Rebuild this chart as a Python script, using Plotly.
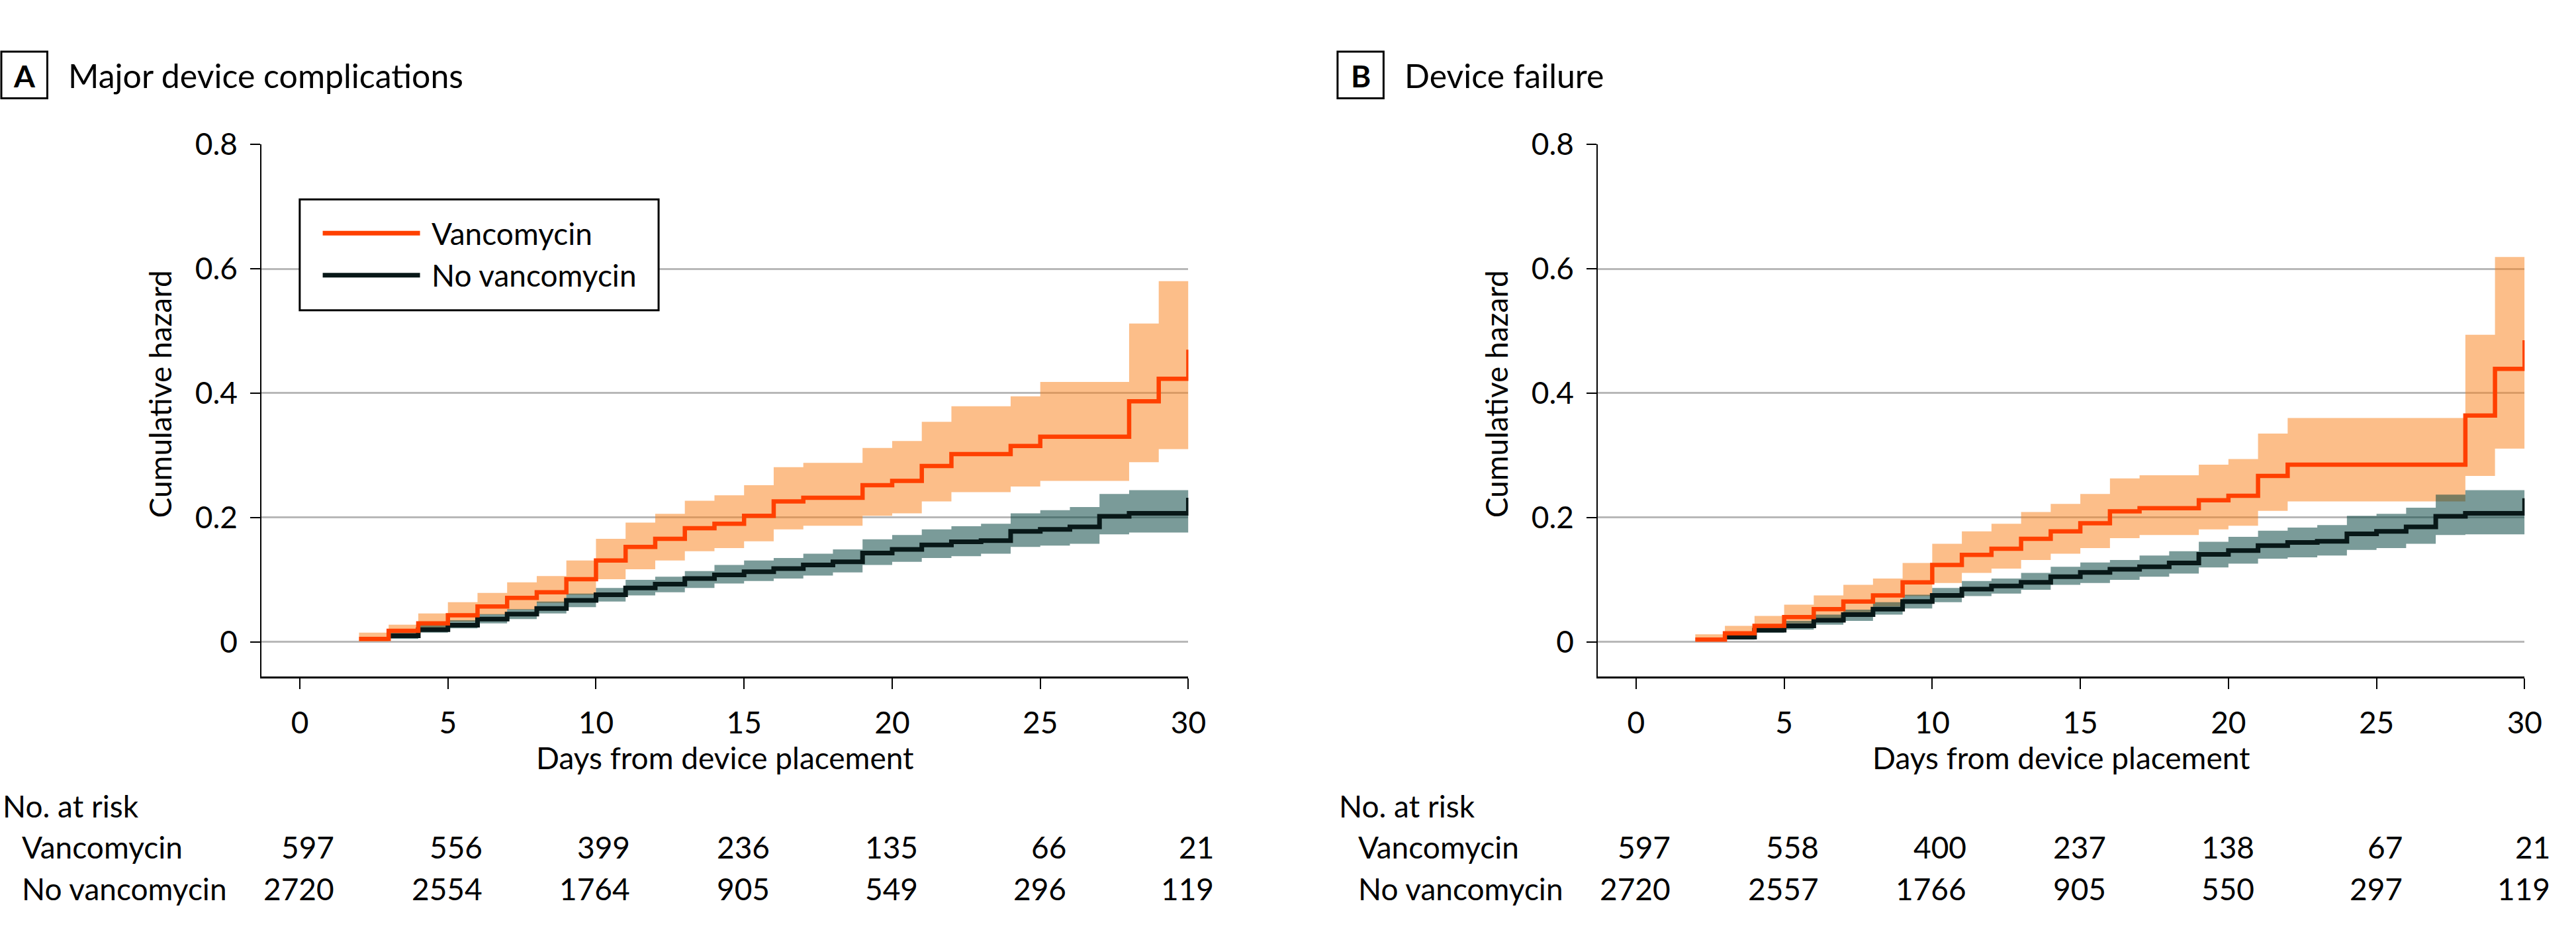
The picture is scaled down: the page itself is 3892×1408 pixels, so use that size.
import plotly.graph_objects as go

W, H = 3892, 1408
FONT = "Lato"

# ---------------- data ----------------
days_vanc = list(range(2, 31))
days_none = list(range(3, 31))
tick_days = [0, 5, 10, 15, 20, 25, 30]

# Panel A: Major device complications
a_vanc = [0.005, 0.018, 0.030, 0.043, 0.057, 0.071, 0.080, 0.101, 0.131, 0.153, 0.166, 0.183, 0.190, 0.203,
          0.226, 0.232, 0.232, 0.252, 0.259, 0.283, 0.302, 0.302, 0.315, 0.330, 0.330, 0.330, 0.387, 0.423, 0.470]
a_vanc_hi = [0.015, 0.028, 0.046, 0.064, 0.079, 0.096, 0.106, 0.131, 0.166, 0.192, 0.206, 0.227, 0.236, 0.252,
             0.281, 0.288, 0.288, 0.312, 0.323, 0.354, 0.379, 0.379, 0.395, 0.418, 0.418, 0.418, 0.512, 0.580, 0.668]
a_vanc_lo = [0.001, 0.008, 0.019, 0.033, 0.044, 0.052, 0.063, 0.076, 0.101, 0.117, 0.131, 0.146, 0.151, 0.162,
             0.181, 0.187, 0.187, 0.203, 0.207, 0.226, 0.241, 0.241, 0.250, 0.259, 0.259, 0.259, 0.289, 0.310, 0.310]
a_none = [0.010, 0.020, 0.027, 0.037, 0.045, 0.054, 0.067, 0.076, 0.087, 0.093, 0.102, 0.108, 0.113,
          0.118, 0.124, 0.129, 0.143, 0.149, 0.156, 0.161, 0.163, 0.178, 0.181, 0.185, 0.202, 0.207, 0.207, 0.232]
a_none_hi = [0.015, 0.027, 0.035, 0.045, 0.053, 0.065, 0.078, 0.087, 0.100, 0.105, 0.114, 0.124, 0.131,
             0.135, 0.142, 0.149, 0.165, 0.172, 0.181, 0.186, 0.190, 0.207, 0.212, 0.217, 0.238, 0.244, 0.244, 0.244]
a_none_lo = [0.005, 0.015, 0.022, 0.030, 0.037, 0.046, 0.056, 0.065, 0.075, 0.080, 0.087, 0.094, 0.098,
             0.102, 0.107, 0.112, 0.124, 0.129, 0.135, 0.138, 0.142, 0.153, 0.155, 0.158, 0.173, 0.176, 0.176, 0.176]
a_risk_vanc = [597, 556, 399, 236, 135, 66, 21]
a_risk_none = [2720, 2554, 1764, 905, 549, 296, 119]

# Panel B: Device failure
b_vanc = [0.004, 0.014, 0.026, 0.040, 0.053, 0.065, 0.075, 0.096, 0.124, 0.140, 0.150, 0.166, 0.178, 0.191,
          0.210, 0.215, 0.215, 0.228, 0.235, 0.267, 0.285, 0.285, 0.285, 0.285, 0.285, 0.285, 0.364, 0.439, 0.485]
b_vanc_hi = [0.0125, 0.026, 0.042, 0.060, 0.075, 0.092, 0.102, 0.127, 0.158, 0.178, 0.190, 0.209, 0.222, 0.238,
             0.263, 0.268, 0.268, 0.285, 0.294, 0.335, 0.360, 0.360, 0.360, 0.360, 0.360, 0.360, 0.494, 0.619, 0.619]
b_vanc_lo = [0.001, 0.005, 0.016, 0.030, 0.038, 0.047, 0.057, 0.074, 0.095, 0.111, 0.118, 0.132, 0.142, 0.151,
             0.167, 0.172, 0.172, 0.181, 0.187, 0.211, 0.226, 0.226, 0.226, 0.226, 0.226, 0.226, 0.267, 0.311, 0.245]
b_none = [0.008, 0.019, 0.026, 0.035, 0.044, 0.053, 0.065, 0.075, 0.085, 0.090, 0.096, 0.105, 0.112,
          0.117, 0.121, 0.127, 0.141, 0.147, 0.155, 0.160, 0.162, 0.174, 0.178, 0.185, 0.202, 0.207, 0.207, 0.231]
b_none_hi = [0.0125, 0.026, 0.034, 0.044, 0.052, 0.064, 0.076, 0.087, 0.098, 0.102, 0.111, 0.121, 0.128,
             0.132, 0.139, 0.146, 0.161, 0.169, 0.179, 0.184, 0.188, 0.203, 0.206, 0.216, 0.237, 0.244, 0.244, 0.244]
b_none_lo = [0.004, 0.015, 0.020, 0.028, 0.034, 0.044, 0.054, 0.064, 0.074, 0.078, 0.084, 0.092, 0.095,
             0.100, 0.105, 0.110, 0.120, 0.126, 0.134, 0.136, 0.139, 0.148, 0.151, 0.158, 0.172, 0.173, 0.173, 0.173]
b_risk_vanc = [597, 558, 400, 237, 138, 67, 21]
b_risk_none = [2720, 2557, 1766, 905, 550, 297, 119]

panel_titles = ["Major device complications", "Device failure"]
panel_letters = ["A", "B"]
series_names = ["Vancomycin", "No vancomycin"]

# ---------------- styles ----------------
C_VANC = "#ff4000"
C_VANC_FILL = "rgba(250,125,20,0.5)"
C_NONE = "#081818"
C_NONE_FILL = "rgba(0,64,60,0.52)"
GRID = "#b8b8b8"


def px(x):
    return x / W


def py(y):
    return 1 - y / H


fig = go.Figure()

panels = [
    dict(vanc=a_vanc, hi=a_vanc_hi, lo=a_vanc_lo, none=a_none, nhi=a_none_hi, nlo=a_none_lo,
         rv=a_risk_vanc, rn=a_risk_none, xa="x", ya="y", off=0),
    dict(vanc=b_vanc, hi=b_vanc_hi, lo=b_vanc_lo, none=b_none, nhi=b_none_hi, nlo=b_none_lo,
         rv=b_risk_vanc, rn=b_risk_none, xa="x2", ya="y2", off=2033),
]

for p in panels:
    xa, ya = p["xa"], p["ya"]
    common = dict(xaxis=xa, yaxis=ya, showlegend=False, hoverinfo="skip", mode="lines")
    fig.add_trace(go.Scatter(x=days_vanc, y=p["lo"], line=dict(width=0, shape="hv"), **common))
    fig.add_trace(go.Scatter(x=days_vanc, y=p["hi"], line=dict(width=0, shape="hv"),
                             fill="tonexty", fillcolor=C_VANC_FILL, **common))
    fig.add_trace(go.Scatter(x=days_none, y=p["nlo"], line=dict(width=0, shape="hv"), **common))
    fig.add_trace(go.Scatter(x=days_none, y=p["nhi"], line=dict(width=0, shape="hv"),
                             fill="tonexty", fillcolor=C_NONE_FILL, **common))
    fig.add_trace(go.Scatter(x=days_none, y=p["none"], line=dict(width=7, shape="hv", color=C_NONE), **common))
    fig.add_trace(go.Scatter(x=days_vanc, y=p["vanc"], line=dict(width=6.5, shape="hv", color=C_VANC), **common))

tickfont = dict(family=FONT, size=46, color="black")
xcommon = dict(range=[-1.29, 30], tickvals=tick_days, ticks="outside", ticklen=16, tickwidth=2,
               tickcolor="black", showline=True, linecolor="black", linewidth=3, showgrid=False,
               zeroline=False, tickfont=tickfont, ticklabelstandoff=12, fixedrange=True)
ycommon = dict(range=[-0.0555, 0.8], tickvals=[0, 0.2, 0.4, 0.6, 0.8],
               ticktext=["0", "0.2", "0.4", "0.6", "0.8"], ticks="outside", ticklen=15, tickwidth=2,
               tickcolor="black", showline=True, linecolor="black", linewidth=2, showgrid=True,
               gridcolor=GRID, gridwidth=3, zeroline=False, tickfont=tickfont, ticklabelstandoff=10,
               fixedrange=True)
ydom = [py(1014), py(193)]
fig.update_layout(
    xaxis=dict(domain=[px(398), px(1808)], anchor="y", **xcommon),
    yaxis=dict(domain=ydom, anchor="x", **ycommon),
    xaxis2=dict(domain=[px(2431), px(3841)], anchor="y2", **xcommon),
    yaxis2=dict(domain=ydom, anchor="x2", **ycommon),
)

ann = []
shapes = []
risk_shift = [54, 54, 54, 41, 41, 41, 41]
for i, p in enumerate(panels):
    off = p["off"]
    # panel letter box + title
    shapes.append(dict(type="rect", xref="paper", yref="paper", x0=px(off + 2), x1=px(off + 72),
                       y0=py(122), y1=py(50), line=dict(color="black", width=3)))
    ann.append(dict(text="<b>%s</b>" % panel_letters[i], x=px(off + 37), y=py(87), xref="paper", yref="paper",
                    xanchor="center", yanchor="middle", showarrow=False,
                    font=dict(family=FONT, size=46, color="black")))
    ann.append(dict(text=panel_titles[i], x=px(off + 102), y=py(87), xref="paper", yref="paper",
                    xanchor="left", yanchor="middle", showarrow=False,
                    font=dict(family=FONT, size=50, color="black")))
    # axis titles
    ann.append(dict(text="Cumulative hazard", x=px(off + 243), y=py(578), xref="paper", yref="paper",
                    textangle=-90, xanchor="center", yanchor="middle", showarrow=False,
                    font=dict(family=FONT, size=46, color="black")))
    ann.append(dict(text="Days from device placement", x=px(off + 1103), y=py(1139), xref="paper",
                    yref="paper", xanchor="center", yanchor="middle", showarrow=False,
                    font=dict(family=FONT, size=46, color="black")))
    # number at risk table
    ann.append(dict(text="No. at risk", x=px(off + 2), y=py(1214), xref="paper", yref="paper",
                    xanchor="left", yanchor="middle", showarrow=False,
                    font=dict(family=FONT, size=46, color="black")))
    for j, (name, row) in enumerate(zip(series_names, [p["rv"], p["rn"]])):
        yy = py([1277, 1341][j])
        ann.append(dict(text=name, x=px(off + 31), y=yy, xref="paper", yref="paper",
                        xanchor="left", yanchor="middle", showarrow=False,
                        font=dict(family=FONT, size=46, color="black")))
        for k, (d, n) in enumerate(zip(tick_days, row)):
            ann.append(dict(text=str(n), x=d, y=yy, xref=p["xa"], yref="paper", xanchor="right",
                            xshift=risk_shift[k], yanchor="middle", showarrow=False,
                            font=dict(family=FONT, size=46, color="black")))

# legend (panel A only)
shapes.append(dict(type="rect", xref="paper", yref="paper", x0=px(456), x1=px(1002), y0=py(449), y1=py(278),
                   line=dict(color="black", width=3), fillcolor="white", layer="above"))
for j, (name, col) in enumerate(zip(series_names, [C_VANC, C_NONE])):
    yy = [330, 395][j]
    shapes.append(dict(type="line", xref="paper", yref="paper", x0=px(491), x1=px(639), y0=py(yy), y1=py(yy),
                       line=dict(color=col, width=7), layer="above"))
    ann.append(dict(text=name, x=px(655), y=py(yy), xref="paper", yref="paper", xanchor="left",
                    yanchor="middle", showarrow=False, font=dict(family=FONT, size=46, color="black")))

fig.update_layout(width=W, height=H, autosize=False, margin=dict(l=0, r=0, t=0, b=0),
                  paper_bgcolor="white", plot_bgcolor="white", showlegend=False,
                  annotations=ann, shapes=shapes, font=dict(family=FONT, color="black"))

fig.write_html("out.html")
